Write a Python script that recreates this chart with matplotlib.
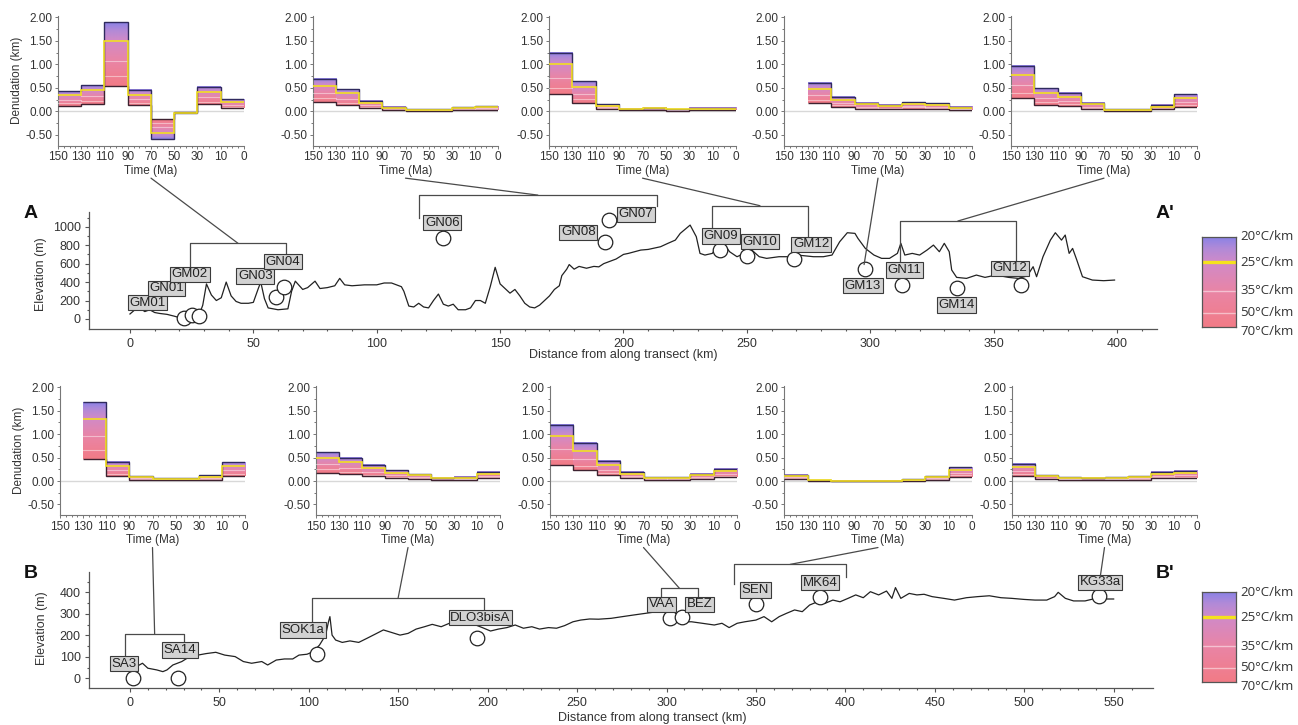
import numpy as np
import matplotlib
matplotlib.use('Agg')
import matplotlib.pyplot as plt
from matplotlib.colors import LinearSegmentedColormap
from matplotlib.patches import ConnectionPatch

plt.rcParams['font.family'] = ['Liberation Sans', 'DejaVu Sans']
plt.rcParams['axes.unicode_minus'] = False

# ---------------- data ----------------
time_labels = ['150', '130', '110', '90', '70', '50', '30', '10', '0']
gradients = [20, 25, 35, 50, 70]
nan = np.nan

# denudation (km) per time bin for 20, 25 and 70 degC/km
A1_d20 = [0.43, 0.56, 1.89, 0.45, -0.59, -0.03, 0.52, 0.26]
A1_d25 = [0.35, 0.45, 1.50, 0.35, -0.47, -0.025, 0.41, 0.20]
A1_d70 = [0.12, 0.16, 0.54, 0.13, -0.17, -0.01, 0.15, 0.07]

A2_d20 = [0.69, 0.47, 0.23, 0.09, 0.04, 0.04, 0.085, 0.12]
A2_d25 = [0.55, 0.38, 0.18, 0.07, 0.03, 0.03, 0.07, 0.095]
A2_d70 = [0.20, 0.13, 0.065, 0.025, 0.01, 0.01, 0.025, 0.035]

A3_d20 = [1.25, 0.64, 0.15, 0.06, 0.08, 0.05, 0.07, 0.07]
A3_d25 = [1.01, 0.51, 0.12, 0.05, 0.065, 0.04, 0.055, 0.055]
A3_d70 = [0.36, 0.18, 0.045, 0.02, 0.025, 0.015, 0.02, 0.02]

A4_d20 = [nan, 0.61, 0.31, 0.18, 0.14, 0.20, 0.17, 0.10]
A4_d25 = [nan, 0.48, 0.25, 0.15, 0.12, 0.16, 0.14, 0.08]
A4_d70 = [nan, 0.17, 0.09, 0.05, 0.04, 0.06, 0.05, 0.03]

A5_d20 = [0.97, 0.50, 0.40, 0.18, 0.04, 0.04, 0.13, 0.36]
A5_d25 = [0.77, 0.39, 0.31, 0.15, 0.03, 0.03, 0.10, 0.28]
A5_d70 = [0.28, 0.14, 0.11, 0.05, 0.01, 0.01, 0.04, 0.10]

B1_d20 = [nan, 1.68, 0.41, 0.10, 0.06, 0.06, 0.12, 0.40]
B1_d25 = [nan, 1.33, 0.31, 0.08, 0.05, 0.05, 0.09, 0.31]
B1_d70 = [nan, 0.47, 0.11, 0.03, 0.02, 0.02, 0.03, 0.11]

B2_d20 = [0.62, 0.49, 0.34, 0.23, 0.15, 0.07, 0.09, 0.20]
B2_d25 = [0.50, 0.40, 0.27, 0.18, 0.12, 0.055, 0.07, 0.16]
B2_d70 = [0.18, 0.14, 0.10, 0.065, 0.045, 0.02, 0.025, 0.06]

B3_d20 = [1.20, 0.81, 0.43, 0.20, 0.09, 0.09, 0.16, 0.26]
B3_d25 = [0.96, 0.65, 0.35, 0.16, 0.07, 0.07, 0.13, 0.21]
B3_d70 = [0.34, 0.23, 0.12, 0.06, 0.03, 0.03, 0.05, 0.075]

B4_d20 = [0.13, 0.02, 0.01, 0.01, 0.01, 0.04, 0.10, 0.30]
B4_d25 = [0.10, 0.016, 0.008, 0.008, 0.008, 0.03, 0.08, 0.24]
B4_d70 = [0.04, 0.006, 0.003, 0.003, 0.003, 0.01, 0.03, 0.09]

B5_d20 = [0.37, 0.12, 0.08, 0.07, 0.08, 0.10, 0.20, 0.22]
B5_d25 = [0.30, 0.10, 0.065, 0.055, 0.065, 0.08, 0.16, 0.18]
B5_d70 = [0.11, 0.035, 0.025, 0.02, 0.025, 0.03, 0.06, 0.065]

# topographic profile A
A_km = [0, 2, 4, 6, 8, 10, 12, 15, 18, 20, 22, 24, 26, 28, 29.5, 31, 33, 35, 37, 39,
        41, 43, 45, 48, 50, 52, 53, 54.5, 56, 60, 64, 65.5, 67, 70, 72, 75, 77, 80, 83,
        85, 87, 90, 95, 100, 103, 106, 108, 110, 111, 113, 115, 117, 119, 121, 123,
        125, 127, 129, 131, 133, 136, 138, 140, 142, 144, 146, 148, 150, 152, 154,
        156, 158, 160, 162, 164, 166, 168, 170, 172, 174, 175, 177, 178, 180, 182,
        185, 188, 190, 192, 195, 197, 200, 202, 207, 210, 215, 218, 221, 223, 227,
        229.5, 231, 233, 236, 238, 241, 243, 246, 249, 252, 255, 258, 263, 267, 270.5,
        277, 281, 284.5, 287.6, 290.7, 293.8, 295, 298, 301.5, 304.6, 307.8, 311,
        312.4, 314, 317, 320, 323, 325.6, 328, 330, 332, 333, 335, 339, 343, 346.5,
        351, 356, 360, 363.6, 366, 367.4, 370, 373, 375, 377.5, 379, 380.6, 382,
        383.7, 386, 390, 394.6, 399]
A_elev = [54, 100, 120, 80, 100, 70, 60, 50, 30, 15, 8, 15, 20, 40, 150, 380, 260, 200, 230, 400,
          250, 190, 170, 170, 180, 330, 400, 220, 120, 100, 110, 300, 410, 320, 340, 410, 330, 340, 360,
          440, 370, 360, 370, 370, 390, 390, 370, 350, 300, 140, 130, 170, 130, 120, 200,
          270, 160, 140, 160, 100, 100, 120, 200, 200, 170, 350, 560, 380, 330, 280,
          320, 250, 170, 130, 120, 150, 200, 250, 320, 360, 470, 540, 590, 540, 570,
          550, 570, 565, 600, 630, 650, 700, 711, 747, 754, 783, 820, 855, 928, 1018,
          892, 711, 693, 711, 783, 801, 729, 675, 711, 747, 675, 657, 675, 675, 693,
          675, 675, 693, 837, 935, 928, 874, 765, 693, 657, 657, 711,
          820, 693, 711, 693, 747, 801, 729, 820, 729, 531, 451, 440, 476, 451,
          476, 451, 440, 466, 567, 458, 675, 855, 935, 855, 910, 711, 765,
          639, 458, 422, 415, 422]

# topographic profile B
B_km = [3.5, 7, 10, 15, 18.4, 20.7, 24, 29, 33.4, 38, 42.6, 48, 53, 58.8, 63.4, 68, 73.7, 77,
        81.8, 86.4, 91, 94.5, 99, 102.5, 106, 109.4, 111, 111.8, 113, 115, 118.7, 123, 127.9,
        132.5, 137, 141.7, 146, 151, 155.5, 160, 164.7, 169, 174, 178.6, 183, 187.8, 192.4,
        197, 201.6, 206, 210.8, 215.4, 220, 224.7, 229, 234, 238.5, 243, 247.7, 252, 257,
        262, 269, 275.4, 282, 288, 294.7, 300, 303, 307.5, 314, 320, 326.7, 331, 335, 339.5,
        343.8, 350, 354.5, 358.8, 363, 367, 371.6, 375.9, 380, 384.4, 388.7, 393, 397, 401.5,
        405.8, 410, 414, 418.6, 423, 426, 428, 431, 435.7, 440, 444, 448.5, 455, 461, 467.7,
        474, 480.5, 487, 493, 500, 506, 512.6, 517, 519, 523, 527.6, 534, 540, 544.6, 550]
B_elev = [54, 70, 47, 39, 31, 39, 62, 78, 101, 108, 115, 121, 108, 101, 78, 70, 78, 62,
          85, 90, 90, 108, 112, 124, 155, 201, 263, 287, 201, 178, 167, 174, 167,
          186, 205, 225, 214, 201, 209, 229, 240, 251, 240, 256, 248, 256, 251,
          236, 220, 229, 236, 248, 233, 240, 229, 236, 233, 245, 263, 271, 276,
          275, 279, 287, 295, 302, 310, 307, 279, 263, 263, 256, 248, 256, 236, 256,
          263, 271, 287, 263, 287, 302, 318, 310, 341, 356, 349, 364, 356, 372,
          388, 375, 403, 388, 406, 372, 422, 372, 395, 388, 391, 380, 372, 364, 375,
          380, 384, 375, 372, 367, 364, 364, 380, 400, 372, 360, 360, 372, 369, 369]

# samples
A_names = ['GM01', 'GN01', 'GM02', 'GN03', 'GN04', 'GN06', 'GN08', 'GN07', 'GN09', 'GN10',
           'GM12', 'GM13', 'GN11', 'GM14', 'GN12']
A_sample_km = [22, 25, 28, 59, 62.3, 127, 192.5, 194, 239, 250, 269, 298, 313, 335, 361]
A_sample_elev = [14, 45, 32, 242, 343, 880, 837, 1072, 747, 686, 646, 541, 368, 332, 368]

B_names = ['SA3', 'SA14', 'SOK1a', 'DLO3bisA', 'VAA', 'BEZ', 'SEN', 'MK64', 'KG33a']
B_sample_km = [1.6, 27, 104.4, 194.2, 302, 308.5, 349.8, 386, 542]
B_sample_elev = [0, 0, 113, 186, 279, 287, 344, 380, 384]

# ---------------- layout (annotation positions) ----------------
A_label_pos = [(7, 177), (14.8, 332), (24.3, 484), (50.8, 466), (62, 621), (126.6, 1043),
               (181.7, 939), (205, 1137), (239.5, 899), (255.3, 837), (276, 809), (297, 361),
               (314, 531), (335, 152), (356.6, 549)]
B_label_pos = [(-3.5, 67), (28, 132), (96.8, 225), (196, 282), (297.4, 344), (318.6, 344),
               (349.8, 411), (386, 445), (542.5, 446)]
# brackets: (x_left, x_right, y_bar, y_left_end, y_right_end)
A_brackets = [(24.3, 63.4, 820, 560, 675), (117, 213.6, 1343, 1100, 1224),
              (235.7, 274.9, 1228, 975, 856), None, (312, 359, 1062, 585, 590)]
A_leader_ends = [(43.8, 820), (165.3, 1343), (255.3, 1228), (297.5, 590), (335.5, 1062)]
B_brackets = [(-2.5, 30.2, 206, 100, 163), (101.8, 198, 372, 256, 313),
              (297, 317.7, 418, 378, 378), (337.8, 400.4, 530, 437, 470), None]
B_leader_ends = [(13.8, 206), (149.9, 372), (307.3, 418), (369.1, 530), (542.5, 472)]

W, H = 1298, 725
fig = plt.figure(figsize=(W / 100, H / 100), dpi=100)


def px_axes(l, t, r, b):
    return fig.add_axes([l / W, 1 - b / H, (r - l) / W, (b - t) / H])


cmap = LinearSegmentedColormap.from_list(
    'geo', [(0, '#f27b86'), (0.4, '#e985a6'), (0.72, '#d08ac8'), (0.88, '#b08ad8'), (1, '#8a82e6')])
ramp = np.linspace(0, 1, 256).reshape(-1, 1)
inv = 1.0 / np.array(gradients, dtype=float)
fracs = (inv - inv[-1]) / (inv[0] - inv[-1])

GRAY = '#777777'
TXT = '#333333'


def draw_inset(ax, d20, d25, d70, first):
    d20 = np.array(d20, float); d25 = np.array(d25, float); d70 = np.array(d70, float)
    n = len(d20)
    edges = np.arange(n + 1)
    ax.set_xlim(0, n)
    ax.set_ylim(-0.73, 2.03)
    ax.axhline(0, color='#d8d8d8', lw=1.0, zorder=1)
    for i in range(n):
        if np.isnan(d20[i]):
            continue
        ax.imshow(ramp, cmap=cmap, origin='lower', extent=(i, i + 1, d70[i], d20[i]),
                  aspect='auto', interpolation='bilinear', zorder=2)
        for f in fracs[2:4]:
            y = d70[i] + f * (d20[i] - d70[i])
            ax.plot([i, i + 1], [y, y], color='white', lw=0.8, alpha=0.45, zorder=3)
    ax.stairs(d20, edges, baseline=None, color='#2f2a5e', lw=1.0, zorder=4)
    ax.stairs(d70, edges, baseline=None, color='#3e2230', lw=1.0, zorder=4)
    ax.stairs(d25, edges, baseline=None, color='#f2df22', lw=1.2, zorder=5)
    ax.set_xlim(0, n)
    ax.set_ylim(-0.73, 2.03)
    yt = [-0.5, 0.0, 0.5, 1.0, 1.5, 2.0]
    ax.set_yticks(yt)
    ax.set_yticklabels(['%.2f' % v for v in yt])
    ax.set_yticks(np.arange(-0.5, 2.01, 0.25), minor=True)
    ax.set_xticks(edges)
    ax.set_xticklabels(time_labels)
    ax.set_xticks(np.arange(0, n + 0.01, 0.25), minor=True)
    ax.tick_params(which='both', direction='out', color=GRAY, width=0.7, labelsize=8.5,
                   labelcolor=TXT, length=2.5, pad=1.5)
    ax.tick_params(which='minor', length=1.3)
    for s in ['top', 'right']:
        ax.spines[s].set_visible(False)
    for s in ['left', 'bottom']:
        ax.spines[s].set_color(GRAY)
        ax.spines[s].set_linewidth(0.8)
    ax.set_xlabel('Time (Ma)', fontsize=8.5, color=TXT, labelpad=1)
    if first:
        ax.set_ylabel('Denudation (km)', fontsize=8.5, color=TXT, labelpad=2)


top_x = [(58, 244), (313, 498), (549, 736), (784, 972), (1011, 1197)]
bot_x = [(60, 245), (316, 500), (550, 737), (784, 972), (1012, 1197)]
top_sets = [(A1_d20, A1_d25, A1_d70), (A2_d20, A2_d25, A2_d70), (A3_d20, A3_d25, A3_d70),
            (A4_d20, A4_d25, A4_d70), (A5_d20, A5_d25, A5_d70)]
bot_sets = [(B1_d20, B1_d25, B1_d70), (B2_d20, B2_d25, B2_d70), (B3_d20, B3_d25, B3_d70),
            (B4_d20, B4_d25, B4_d70), (B5_d20, B5_d25, B5_d70)]

top_axes, bot_axes = [], []
for k, ((l, r), s) in enumerate(zip(top_x, top_sets)):
    ax = px_axes(l, 15.9, r, 145.7)
    draw_inset(ax, *s, first=(k == 0))
    top_axes.append(ax)
for k, ((l, r), s) in enumerate(zip(bot_x, bot_sets)):
    ax = px_axes(l, 385.9, r, 515.2)
    draw_inset(ax, *s, first=(k == 0))
    bot_axes.append(ax)


def style_profile(ax, xt, xminor, yt, yminor):
    ax.set_xticks(xt)
    ax.set_xticks(xminor, minor=True)
    ax.set_yticks(yt)
    ax.set_yticks(yminor, minor=True)
    ax.tick_params(which='both', direction='out', color='#555555', width=0.8, labelsize=9,
                   labelcolor=TXT, length=3, pad=3)
    ax.tick_params(which='minor', length=1.5)
    for s in ['top', 'right']:
        ax.spines[s].set_visible(False)
    for s in ['left', 'bottom']:
        ax.spines[s].set_color('#555555')
        ax.spines[s].set_linewidth(0.9)
    ax.patch.set_alpha(0)


def draw_samples(ax, names, skm, selev, lpos, brackets, leaders, insets):
    ax.plot(skm, selev, 'o', ms=10.5, mfc='white', mec='#222222', mew=0.9,
            clip_on=False, zorder=5, ls='none')
    for name, (lx, ly) in zip(names, lpos):
        ax.text(lx, ly, name, ha='center', va='center', fontsize=9.5, color='#222222',
                zorder=7, clip_on=False,
                bbox=dict(boxstyle='square,pad=0.12', fc='#d2d2d2', ec='#3a3a3a', lw=0.8))
    for br in brackets:
        if br is None:
            continue
        x1, x2, yb, y1, y2 = br
        ax.plot([x1, x1, x2, x2], [y1, yb, yb, y2], color='#4a4a4a', lw=0.9,
                clip_on=False, zorder=4)
    for (lx, ly), ins in zip(leaders, insets):
        con = ConnectionPatch(xyA=(0.5, -0.25), coordsA=ins.transAxes, xyB=(lx, ly),
                              coordsB=ax.transData, color='#4a4a4a', lw=0.9)
        fig.add_artist(con)


# ---- profile A ----
axA = px_axes(89, 211.7, 1157, 329.3)
axA.plot(A_km, A_elev, color='#222222', lw=0.9, zorder=3)
axA.set_xlim(-16.6, 416.2)
axA.set_ylim(-112, 1163)
style_profile(axA, np.arange(0, 401, 50), np.arange(0, 411, 10), np.arange(0, 1001, 200),
              np.arange(0, 1101, 100))
axA.set_ylabel('Elevation (m)', fontsize=9, color=TXT)
axA.yaxis.set_label_coords(-0.039, 0.47)
axA.set_xlabel('Distance from along transect (km)', fontsize=9, color=TXT)
axA.xaxis.set_label_coords(0.5, -0.165)
draw_samples(axA, A_names, A_sample_km, A_sample_elev, A_label_pos, A_brackets,
             A_leader_ends, top_axes)

# ---- profile B ----
axB = px_axes(89, 571.7, 1153, 688.3)
axB.plot(B_km, B_elev, color='#222222', lw=0.9, zorder=3)
axB.set_xlim(-22.9, 572)
axB.set_ylim(-46.5, 496)
style_profile(axB, np.arange(0, 551, 50), np.arange(0, 561, 10), np.arange(0, 401, 100),
              np.arange(0, 451, 50))
axB.set_ylabel('Elevation (m)', fontsize=9, color=TXT)
axB.yaxis.set_label_coords(-0.039, 0.517)
axB.set_xlabel('Distance from along transect (km)', fontsize=9, color=TXT)
axB.xaxis.set_label_coords(0.529, -0.2)
draw_samples(axB, B_names, B_sample_km, B_sample_elev, B_label_pos, B_brackets,
             B_leader_ends, bot_axes)

# panel letters
for txt, x, y in [('A', 31, 213), ("A'", 1165, 213), ('B', 31, 573), ("B'", 1165, 573)]:
    fig.text(x / W, 1 - y / H, txt, fontsize=14, fontweight='bold', ha='center', va='center',
             color='#111111')


# ---- colour legends ----
def draw_legend(t, b):
    ax = px_axes(1202, t, 1236, b)
    ax.imshow(ramp, cmap=cmap, origin='lower', extent=(0, 1, 0, 1), aspect='auto',
              interpolation='bilinear')
    ax.axhline(fracs[1], color='#f5e21c', lw=2.4)
    for f in fracs[2:4]:
        ax.axhline(f, color='white', lw=1.0, alpha=0.5)
    ax.set_xlim(0, 1)
    ax.set_ylim(0, 1)
    ax.set_xticks([])
    ax.set_yticks([])
    for s in ax.spines.values():
        s.set_color('#555555')
        s.set_linewidth(0.9)
    label_y = list(fracs)
    label_y[-1] = -0.055
    for g, f in zip(gradients, label_y):
        ax.text(1.12, f, '%d\u00b0C/km' % g, transform=ax.transAxes, va='center',
                ha='left', fontsize=9.5, color=TXT, family=['Open Sans', 'DejaVu Sans'])


draw_legend(237, 327)
draw_legend(592, 682)

fig.savefig('out.png', dpi=100)
